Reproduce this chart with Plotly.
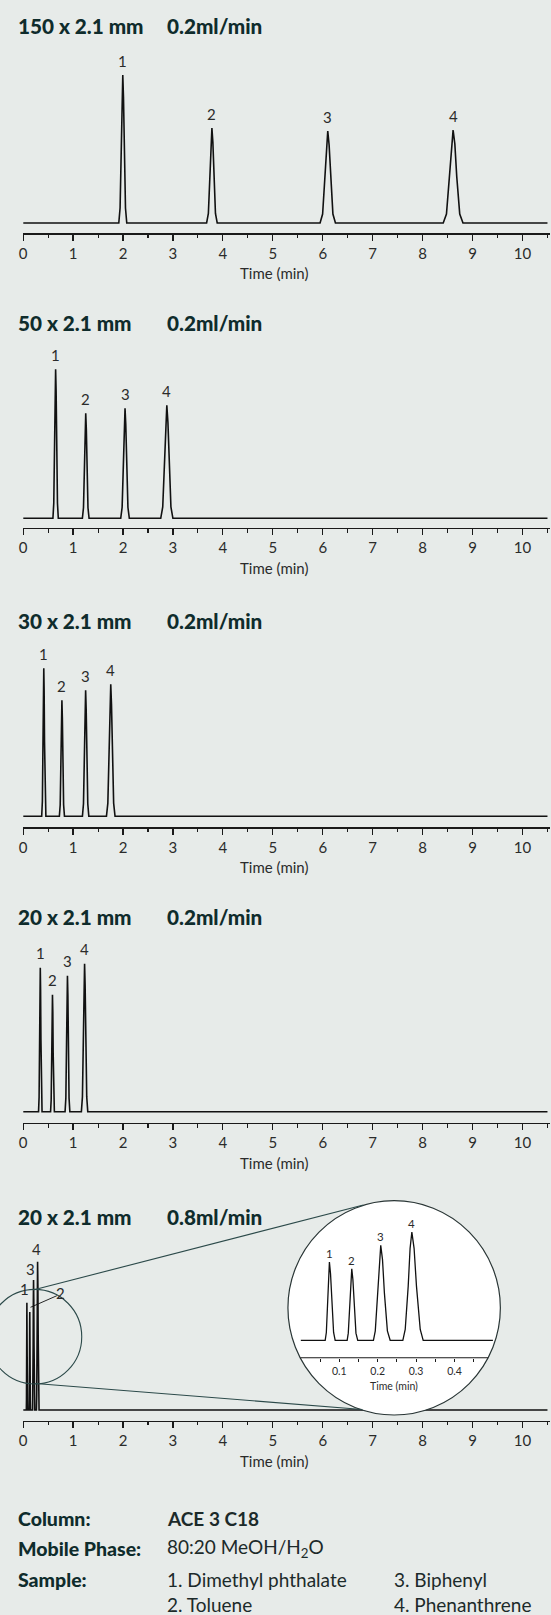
import plotly.graph_objects as go

W, H = 551, 1615
BG = '#e7ebe9'
INK = '#0f2c2c'
TXT = '#2b2b2b'
ZOOMC = '#2c4a4a'
FONT = 'Lato'

# ---------------- data ----------------
peak_ids = ['1', '2', '3', '4']
column_txt = ['150 x 2.1 mm', '50 x 2.1 mm', '30 x 2.1 mm', '20 x 2.1 mm', '20 x 2.1 mm']
flow_txt = ['0.2ml/min', '0.2ml/min', '0.2ml/min', '0.2ml/min', '0.8ml/min']
major_ticks = [0, 1, 2, 3, 4, 5, 6, 7, 8, 9, 10]
inset_major = [0.1, 0.2, 0.3, 0.4]
inset_labels = ['0.1', '0.2', '0.3', '0.4']
inset_minor = [0.05, 0.15, 0.25, 0.35, 0.45]

# 150 x 2.1 mm, 0.2 ml/min
rt_150 = [1.995, 3.78, 6.10, 8.61]
h_150 = [148, 95, 92, 93]
t_150 = [0.0,
         1.915, 1.941, 1.965, 1.981, 1.995, 2.009, 2.025, 2.049, 2.075,
         3.674, 3.709, 3.741, 3.761, 3.780, 3.799, 3.819, 3.851, 3.886,
         5.946, 5.997, 6.043, 6.073, 6.100, 6.127, 6.157, 6.203, 6.254,
         8.412, 8.477, 8.537, 8.575, 8.610, 8.645, 8.683, 8.743, 8.808,
         10.5]
s_150 = [0,
         0, 15, 74, 126, 148, 126, 74, 15, 0,
         0, 9.5, 47.5, 81, 95, 81, 47.5, 9.5, 0,
         0, 9, 46, 78, 92, 78, 46, 9, 0,
         0, 9, 46.5, 79, 93, 79, 46.5, 9, 0,
         0]

# 50 x 2.1 mm, 0.2 ml/min
rt_50 = [0.65, 1.253, 2.04, 2.877]
h_50 = [149, 105, 110, 113]
t_50 = [0.0,
        0.596, 0.613, 0.630, 0.640, 0.650, 0.660, 0.670, 0.687, 0.704,
        1.186, 1.208, 1.228, 1.241, 1.253, 1.265, 1.278, 1.298, 1.320,
        1.954, 1.982, 2.008, 2.025, 2.040, 2.055, 2.072, 2.098, 2.126,
        2.755, 2.795, 2.832, 2.855, 2.877, 2.899, 2.922, 2.959, 2.999,
        10.5]
s_50 = [0,
        0, 15, 74.5, 127, 149, 127, 74.5, 15, 0,
        0, 10.5, 52.5, 89, 105, 89, 52.5, 10.5, 0,
        0, 11, 55, 93.5, 110, 93.5, 55, 11, 0,
        0, 11.3, 56.5, 96, 113, 96, 56.5, 11.3, 0,
        0]

# 30 x 2.1 mm, 0.2 ml/min
rt_30 = [0.413, 0.776, 1.251, 1.754]
h_30 = [148, 116, 126, 132]
t_30 = [0.0,
        0.371, 0.385, 0.398, 0.406, 0.413, 0.420, 0.428, 0.441, 0.455,
        0.725, 0.742, 0.757, 0.767, 0.776, 0.785, 0.795, 0.810, 0.827,
        1.187, 1.208, 1.227, 1.240, 1.251, 1.262, 1.275, 1.294, 1.315,
        1.668, 1.696, 1.722, 1.739, 1.754, 1.769, 1.786, 1.812, 1.840,
        10.5]
s_30 = [0,
        0, 15, 74, 126, 148, 126, 74, 15, 0,
        0, 11.6, 58, 98.6, 116, 98.6, 58, 11.6, 0,
        0, 12.6, 63, 107, 126, 107, 63, 12.6, 0,
        0, 13.2, 66, 112, 132, 112, 66, 13.2, 0,
        0]

# 20 x 2.1 mm, 0.2 ml/min
rt_20a = [0.343, 0.587, 0.887, 1.230]
h_20a = [144, 117, 136, 148]
t_20a = [0.0,
         0.308, 0.319, 0.330, 0.337, 0.343, 0.349, 0.356, 0.367, 0.378,
         0.549, 0.561, 0.573, 0.580, 0.587, 0.594, 0.601, 0.613, 0.625,
         0.839, 0.855, 0.869, 0.878, 0.887, 0.896, 0.905, 0.919, 0.935,
         1.166, 1.187, 1.206, 1.219, 1.230, 1.241, 1.254, 1.273, 1.294,
         10.5]
s_20a = [0,
         0, 14.4, 72, 122, 144, 122, 72, 14.4, 0,
         0, 11.7, 58.5, 99.5, 117, 99.5, 58.5, 11.7, 0,
         0, 13.6, 68, 115.6, 136, 115.6, 68, 13.6, 0,
         0, 14.8, 74, 126, 148, 126, 74, 14.8, 0,
         0]

# 20 x 2.1 mm, 0.8 ml/min (also shown enlarged in the inset)
rt_20b = [0.0744, 0.1326, 0.208, 0.289]
h_20b = [107.3, 98, 130, 148.3]
t_20b_peaks = [0.0634, 0.0664, 0.0700, 0.0723, 0.0744, 0.0773, 0.0804, 0.0853, 0.0894,
               0.1206, 0.1235, 0.1276, 0.1302, 0.1326, 0.1355, 0.1386, 0.1435, 0.1481,
               0.1890, 0.1938, 0.2002, 0.2043, 0.2080, 0.2126, 0.2175, 0.2253, 0.2325,
               0.2655, 0.2717, 0.2795, 0.2844, 0.2890, 0.2948, 0.3010, 0.3108, 0.3185]
s_20b_peaks = [0, 10.7, 53.7, 91.2, 107.3, 91.2, 53.7, 10.7, 0,
               0, 9.8, 49, 83.3, 98, 83.3, 49, 9.8, 0,
               0, 13, 65, 110.5, 130, 110.5, 65, 13, 0,
               0, 14.8, 74.2, 126, 148.3, 126, 74.2, 14.8, 0]
run_end = 10.5
inset_end = 0.5
t_20b = [0.0] + t_20b_peaks + [run_end]
s_20b = [0] + s_20b_peaks + [0]
t_inset = [0.0] + t_20b_peaks + [inset_end]
s_inset = [0] + s_20b_peaks + [0]

info_rows = [('Column:', '<b>ACE 3 C18</b>', ''),
             ('Mobile Phase:', '80:20 MeOH/H<sub>2</sub>O', ''),
             ('Sample:', '1. Dimethyl phthalate', '3. Biphenyl'),
             ('', '2. Toluene', '4. Phenanthrene')]

# ---------------- layout helpers (pixel -> paper) ----------------
def px_x(px):
    return px / W


def px_y(py):
    return 1 - py / H


X0_PX, X_END_PX, PX_PER_MIN = 19.3, 550.0, 50.3
X_RANGE = [0, (X_END_PX - X0_PX) / PX_PER_MIN]
PANEL_H = 190
LEFT_COL, MID_COL, RIGHT_COL = 12.5, 162.5, 390.5

panels = [
    dict(t=t_150, s=s_150, rt=rt_150, h=h_150, axis=233.3, base=223.0, title=26.0),
    dict(t=t_50, s=s_50, rt=rt_50, h=h_50, axis=527.7, base=518.3, title=323.3),
    dict(t=t_30, s=s_30, rt=rt_30, h=h_30, axis=827.3, base=816.3, title=620.7),
    dict(t=t_20a, s=s_20a, rt=rt_20a, h=h_20a, axis=1122.7, base=1111.7, title=916.7),
    dict(t=t_20b, s=s_20b, rt=rt_20b, h=h_20b, axis=1420.5, base=1410.0, title=1216.7),
]

fig = go.Figure()
annotations = []
shapes = []
layout = {}

for i, p in enumerate(panels, start=1):
    sx = '' if i == 1 else str(i)
    fig.add_trace(go.Scatter(x=p['t'], y=p['s'], mode='lines',
                             line=dict(color='#111111', width=1.6),
                             xaxis='x' + sx, yaxis='y' + sx,
                             hoverinfo='skip', showlegend=False))
    gap = p['axis'] - p['base']
    layout['xaxis' + sx] = dict(
        domain=[px_x(X0_PX), px_x(X_END_PX)], range=X_RANGE, anchor='y' + sx,
        showline=True, linecolor='#1a1a1a', linewidth=1.3,
        ticks='outside', ticklen=6, tickwidth=1.2, tickcolor='#1a1a1a',
        tickmode='array', tickvals=major_ticks,
        minor=dict(dtick=0.5, tick0=0, ticks='outside', ticklen=3.5,
                   tickwidth=1.1, tickcolor='#1a1a1a', showgrid=False),
        ticklabelstandoff=0,
        tickfont=dict(family=FONT, size=15, color=TXT),
        showgrid=False, zeroline=False, fixedrange=True)
    layout['yaxis' + sx] = dict(
        domain=[px_y(p['axis']), px_y(p['axis'] - PANEL_H)],
        range=[-gap, PANEL_H - gap], visible=False, fixedrange=True)
    # titles
    annotations.append(dict(x=px_x(LEFT_COL), y=px_y(p['title']), xref='paper', yref='paper',
                            text=column_txt[i - 1], showarrow=False, xanchor='left',
                            yanchor='middle',
                            font=dict(family=FONT, size=20.7, color=INK, weight=900)))
    annotations.append(dict(x=px_x(MID_COL), y=px_y(p['title']), xref='paper', yref='paper',
                            text=flow_txt[i - 1], showarrow=False, xanchor='left',
                            yanchor='middle',
                            font=dict(family=FONT, size=20.7, color=INK, weight=900)))
    annotations.append(dict(x=px_x(272.3), y=px_y(p['axis'] + 40), xref='paper', yref='paper',
                            text='Time (min)', showarrow=False, xanchor='center',
                            yanchor='middle', font=dict(family=FONT, size=15, color=TXT)))
    if i < 5:
        for lab, rt, hh in zip(peak_ids, p['rt'], p['h']):
            annotations.append(dict(x=rt, y=hh, xref='x' + sx, yref='y' + sx, text=lab,
                                    showarrow=False, yshift=14.5, xanchor='center',
                                    yanchor='middle',
                                    font=dict(family=FONT, size=15, color=TXT)))

# panel 5 peak labels (crowded, placed by hand) and the leader for "2"
p5_labels = [('1', 20.7, 1289.3), ('3', 26.7, 1269.3), ('4', 32.7, 1249.0), ('2', 57.3, 1292.7)]
for lab, xp, yp in p5_labels:
    annotations.append(dict(x=px_x(xp), y=px_y(yp), xref='paper', yref='paper', text=lab,
                            showarrow=False, xanchor='center', yanchor='middle',
                            font=dict(family=FONT, size=15, color=TXT)))
shapes.append(dict(type='line', xref='paper', yref='paper',
                   x0=px_x(26.7), y0=px_y(1307.3), x1=px_x(53.3), y1=px_y(1295.7),
                   line=dict(color='#111111', width=0.9), layer='above'))

# ---------------- inset ----------------
IN_X0, IN_PPM = 299.0, 387.0          # px of t=0, px per minute
IN_BASE, IN_SCALE = 1340.3, 0.73       # baseline px, px per signal unit
IN_AXIS = 1357.7
dom_l, dom_r, dom_t, dom_b = 284.0, 502.0, 1198.5, 1417.5


def in_x(px):
    return (px - IN_X0) / IN_PPM


def in_y(py):
    return (IN_BASE - py) / IN_SCALE


fig.add_trace(go.Scatter(x=t_inset, y=s_inset, mode='lines',
                         line=dict(color='#111111', width=1.3),
                         xaxis='x6', yaxis='y6', hoverinfo='skip', showlegend=False))
layout['xaxis6'] = dict(
    domain=[px_x(dom_l), px_x(dom_r)], range=[in_x(dom_l), in_x(dom_r)],
    anchor='free', position=px_y(IN_AXIS), showline=False,
    ticks='outside', ticklen=3, tickwidth=1, tickcolor='#1a1a1a',
    tickmode='array', tickvals=inset_major, ticktext=inset_labels,
    minor=dict(tickmode='array', tickvals=inset_minor, ticks='outside', ticklen=3,
               tickwidth=1, tickcolor='#1a1a1a', showgrid=False),
    ticklabelstandoff=1,
    tickfont=dict(family=FONT, size=10.5, color=TXT),
    showgrid=False, zeroline=False, fixedrange=True)
layout['yaxis6'] = dict(domain=[px_y(dom_b), px_y(dom_t)], range=[in_y(dom_b), in_y(dom_t)],
                        anchor='x6', visible=False, fixedrange=True)

shapes.append(dict(type='circle', xref='x6', yref='y6', layer='below',
                   x0=in_x(286), x1=in_x(500), y0=in_y(1415), y1=in_y(1200.7),
                   fillcolor='white', line=dict(color='#2a3636', width=1.2)))
shapes.append(dict(type='line', xref='x6', yref='y6', layer='below',
                   x0=in_x(298.5), x1=in_x(487.5), y0=in_y(IN_AXIS), y1=in_y(IN_AXIS),
                   line=dict(color='#1a1a1a', width=1.1)))
for lab, rt, hh in zip(peak_ids, rt_20b, h_20b):
    annotations.append(dict(x=rt, y=hh, xref='x6', yref='y6', text=lab, showarrow=False,
                            yshift=8.5, xanchor='center', yanchor='middle',
                            font=dict(family=FONT, size=11.5, color=TXT)))
annotations.append(dict(x=px_x(393.3), y=px_y(1385.7), xref='paper', yref='paper',
                        text='Time (min)', showarrow=False, xanchor='center', yanchor='middle',
                        font=dict(family=FONT, size=10.5, color=TXT)))

# zoom marker circle and connecting lines
shapes.append(dict(type='circle', xref='paper', yref='paper', layer='above',
                   x0=px_x(31 - 47.3), x1=px_x(31 + 47.3),
                   y0=px_y(1336.7 + 47.3), y1=px_y(1336.7 - 47.3),
                   line=dict(color=ZOOMC, width=1.1)))
shapes.append(dict(type='line', xref='paper', yref='paper', layer='above',
                   x0=px_x(29.3), y0=px_y(1290), x1=px_x(362), y1=px_y(1205),
                   line=dict(color=ZOOMC, width=1.1)))
shapes.append(dict(type='line', xref='paper', yref='paper', layer='above',
                   x0=px_x(31.7), y0=px_y(1383.5), x1=px_x(361), y1=px_y(1409.5),
                   line=dict(color=ZOOMC, width=1.1)))

# ---------------- info block ----------------
row_y = [1518.3, 1548.3, 1579.3, 1604.0]
for (lab, v1, v2), yp in zip(info_rows, row_y):
    if lab:
        annotations.append(dict(x=px_x(LEFT_COL), y=px_y(yp), xref='paper', yref='paper',
                                text=lab, showarrow=False, xanchor='left', yanchor='middle',
                                font=dict(family=FONT, size=19.5, color=INK, weight=900)))
    if v1:
        annotations.append(dict(x=px_x(MID_COL), y=px_y(yp), xref='paper', yref='paper',
                                text=v1, showarrow=False, xanchor='left', yanchor='middle',
                                font=dict(family=FONT, size=19, color='#1c2a2a')))
    if v2:
        annotations.append(dict(x=px_x(RIGHT_COL), y=px_y(yp), xref='paper', yref='paper',
                                text=v2, showarrow=False, xanchor='left', yanchor='middle',
                                font=dict(family=FONT, size=19, color='#1c2a2a')))

fig.update_layout(width=W, height=H, margin=dict(l=0, r=0, t=0, b=0, pad=0),
                  paper_bgcolor=BG, plot_bgcolor='rgba(0,0,0,0)',
                  showlegend=False, annotations=annotations, shapes=shapes,
                  font=dict(family=FONT), **layout)

fig.write_html("out.html", config=dict(displayModeBar=False, staticPlot=True))
